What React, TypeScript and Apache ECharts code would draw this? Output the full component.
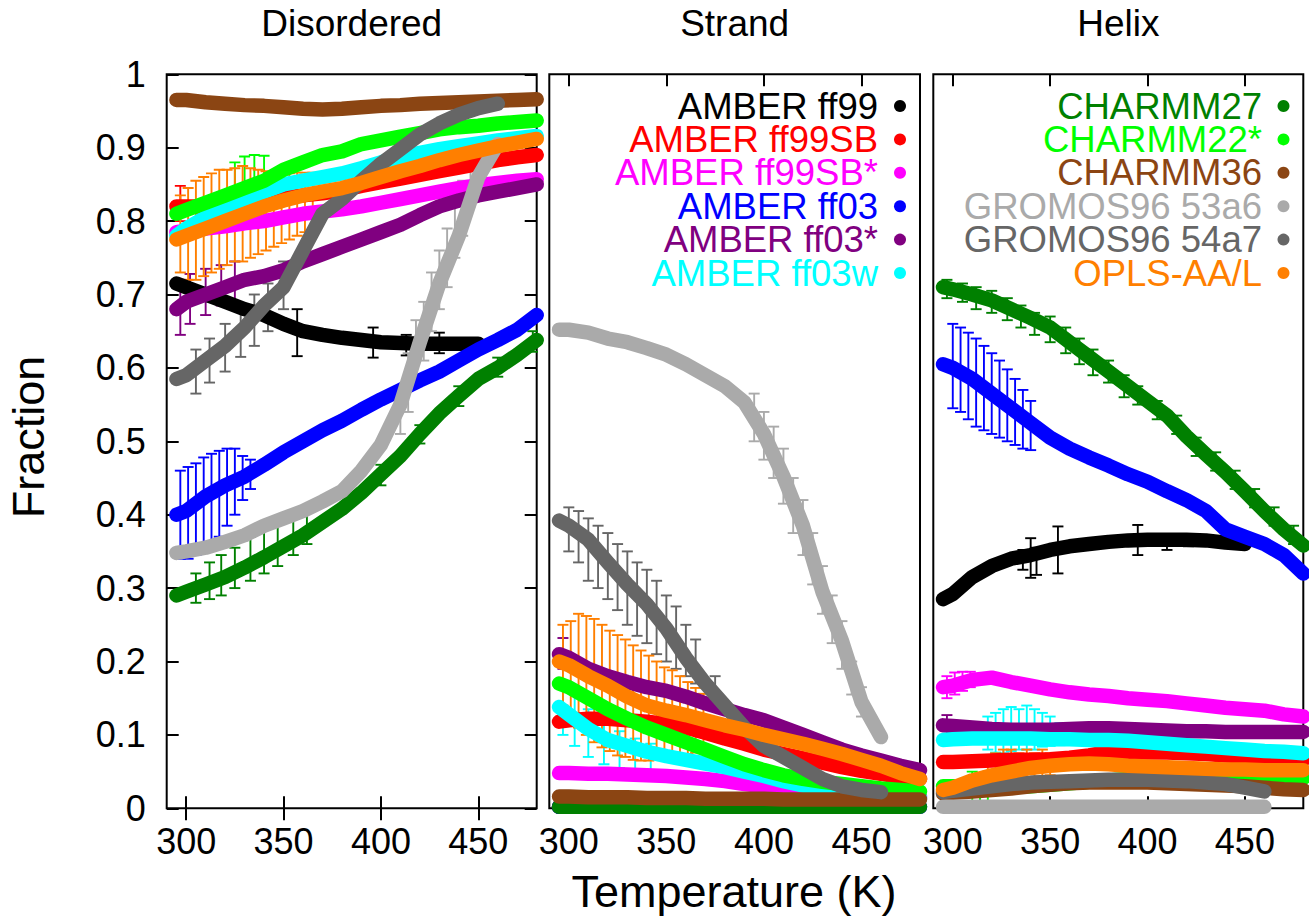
import React, { useEffect, useRef } from "react";
import * as echarts from "echarts";

// ---------------- data ----------------
const TEMPS = [295, 300, 310, 320, 330, 340, 350, 360, 370, 380, 390, 400, 410, 420, 430, 440, 450, 460, 470, 480];
const X_TICKS = [300, 350, 400, 450];
const PANEL_TITLES = ["Disordered", "Strand", "Helix"];
const FORCE_FIELDS = [
  "AMBER ff99", "AMBER ff99SB", "AMBER ff99SB*", "AMBER ff03", "AMBER ff03*", "AMBER ff03w",
  "CHARMM27", "CHARMM22*", "CHARMM36", "GROMOS96 53a6", "GROMOS96 54a7", "OPLS-AA/L",
];
const COLORS = [
  "#000000", "#ff0000", "#ff00ff", "#0000ff", "#800080", "#00ffff",
  "#008000", "#00ff00", "#8b4513", "#aaaaaa", "#666666", "#ff7f00",
];

type Row = (number | null)[];

// rows in FORCE_FIELDS order, values at TEMPS
const DISORDERED: Row[] = [
  [0.715, 0.71, 0.70, 0.69, 0.68, 0.672, 0.66, 0.65, 0.645, 0.641, 0.638, 0.635, 0.634, 0.633, 0.633, 0.633, 0.633, null, null, null],
  [0.82, 0.82, 0.82, 0.822, 0.826, 0.83, 0.832, 0.835, 0.838, 0.842, 0.848, 0.853, 0.858, 0.863, 0.868, 0.873, 0.878, 0.883, 0.887, 0.89],
  [0.785, 0.787, 0.79, 0.793, 0.797, 0.80, 0.805, 0.81, 0.813, 0.816, 0.82, 0.825, 0.83, 0.835, 0.84, 0.845, 0.849, 0.852, 0.855, 0.857],
  [0.40, 0.405, 0.425, 0.44, 0.452, 0.468, 0.485, 0.50, 0.515, 0.528, 0.543, 0.557, 0.57, 0.583, 0.595, 0.61, 0.625, 0.638, 0.652, 0.672],
  [0.68, 0.69, 0.70, 0.71, 0.72, 0.725, 0.733, 0.745, 0.755, 0.765, 0.775, 0.785, 0.795, 0.808, 0.82, 0.828, 0.835, 0.84, 0.845, 0.85],
  [0.78, 0.79, 0.805, 0.82, 0.83, 0.84, 0.85, 0.855, 0.86, 0.865, 0.872, 0.88, 0.887, 0.893, 0.898, 0.902, 0.906, 0.91, 0.913, 0.916],
  [0.29, 0.295, 0.305, 0.315, 0.328, 0.342, 0.357, 0.372, 0.39, 0.408, 0.43, 0.455, 0.48, 0.51, 0.538, 0.562, 0.585, 0.60, 0.618, 0.638],
  [0.81, 0.815, 0.825, 0.835, 0.845, 0.855, 0.87, 0.88, 0.89, 0.895, 0.905, 0.91, 0.915, 0.92, 0.925, 0.928, 0.93, 0.933, 0.935, 0.937],
  [0.965, 0.965, 0.962, 0.96, 0.958, 0.957, 0.955, 0.953, 0.952, 0.953, 0.955, 0.957, 0.958, 0.96, 0.961, 0.962, 0.963, 0.964, 0.965, 0.966],
  [0.348, 0.35, 0.355, 0.363, 0.372, 0.385, 0.395, 0.405, 0.418, 0.432, 0.46, 0.495, 0.55, 0.635, 0.715, 0.78, 0.86, 0.905, null, null],
  [0.585, 0.59, 0.61, 0.63, 0.655, 0.685, 0.71, 0.76, 0.81, 0.83, 0.855, 0.878, 0.898, 0.918, 0.933, 0.945, 0.954, 0.96, null, null],
  [0.775, 0.78, 0.79, 0.80, 0.81, 0.82, 0.828, 0.835, 0.84, 0.845, 0.852, 0.86, 0.868, 0.875, 0.883, 0.89, 0.896, 0.902, 0.907, 0.912],
];

const STRAND: Row[] = [
  [0.002, 0.002, 0.002, 0.002, 0.002, 0.002, 0.002, 0.002, 0.002, 0.002, 0.002, 0.002, 0.002, 0.002, 0.002, 0.002, 0.002, null, null, null],
  [0.118, 0.12, 0.122, 0.122, 0.12, 0.118, 0.115, 0.11, 0.103, 0.095, 0.088, 0.08, 0.074, 0.068, 0.062, 0.056, 0.051, 0.047, 0.043, 0.04],
  [0.048, 0.048, 0.047, 0.047, 0.046, 0.045, 0.044, 0.042, 0.04, 0.037, 0.033, 0.03, 0.027, 0.024, 0.022, 0.02, 0.018, 0.017, 0.016, 0.015],
  [0.002, 0.002, 0.002, 0.002, 0.002, 0.002, 0.002, 0.002, 0.002, 0.002, 0.002, 0.002, 0.002, 0.002, 0.002, 0.002, 0.002, 0.002, 0.002, 0.002],
  [0.21, 0.205, 0.19, 0.18, 0.172, 0.165, 0.16, 0.152, 0.143, 0.135, 0.127, 0.12, 0.11, 0.10, 0.09, 0.08, 0.072, 0.065, 0.058, 0.052],
  [0.138, 0.128, 0.108, 0.093, 0.085, 0.077, 0.071, 0.066, 0.061, 0.056, 0.05, 0.044, 0.037, 0.031, 0.026, 0.022, 0.019, 0.017, 0.015, 0.014],
  [0.002, 0.002, 0.002, 0.002, 0.002, 0.002, 0.002, 0.002, 0.002, 0.002, 0.002, 0.002, 0.002, 0.002, 0.002, 0.002, 0.002, 0.002, 0.002, 0.002],
  [0.17, 0.165, 0.15, 0.135, 0.122, 0.11, 0.10, 0.09, 0.08, 0.07, 0.06, 0.052, 0.045, 0.04, 0.036, 0.033, 0.03, 0.027, 0.025, 0.023],
  [0.016, 0.016, 0.015, 0.015, 0.015, 0.014, 0.014, 0.014, 0.013, 0.013, 0.013, 0.013, 0.012, 0.012, 0.012, 0.012, 0.012, 0.012, 0.012, 0.012],
  [0.652, 0.652, 0.648, 0.64, 0.635, 0.627, 0.618, 0.605, 0.59, 0.575, 0.553, 0.51, 0.452, 0.385, 0.295, 0.228, 0.145, 0.097, null, null],
  [0.392, 0.385, 0.366, 0.335, 0.305, 0.278, 0.245, 0.205, 0.17, 0.14, 0.11, 0.085, 0.07, 0.055, 0.04, 0.03, 0.025, 0.022, null, null],
  [0.20, 0.195, 0.18, 0.167, 0.152, 0.14, 0.133, 0.127, 0.12, 0.113, 0.107, 0.10, 0.094, 0.088, 0.081, 0.074, 0.066, 0.058, 0.048, 0.04],
];

const HELIX: Row[] = [
  [0.285, 0.292, 0.315, 0.33, 0.34, 0.345, 0.352, 0.357, 0.36, 0.363, 0.365, 0.366, 0.366, 0.366, 0.365, 0.362, 0.36, null, null, null],
  [0.063, 0.063, 0.064, 0.065, 0.066, 0.066, 0.067, 0.069, 0.072, 0.077, 0.077, 0.076, 0.076, 0.075, 0.074, 0.072, 0.071, 0.069, 0.067, 0.066],
  [0.165, 0.167, 0.175, 0.178, 0.172, 0.167, 0.162, 0.158, 0.155, 0.153, 0.15, 0.148, 0.146, 0.143, 0.14, 0.137, 0.135, 0.133, 0.128, 0.125],
  [0.605, 0.60, 0.585, 0.565, 0.545, 0.525, 0.505, 0.49, 0.478, 0.467, 0.455, 0.445, 0.432, 0.42, 0.405, 0.38, 0.37, 0.36, 0.345, 0.32],
  [0.113, 0.112, 0.11, 0.108, 0.107, 0.107, 0.107, 0.108, 0.109, 0.109, 0.108, 0.107, 0.106, 0.105, 0.105, 0.104, 0.104, 0.104, 0.104, 0.104],
  [0.093, 0.094, 0.095, 0.095, 0.095, 0.095, 0.094, 0.094, 0.093, 0.093, 0.092, 0.09, 0.088, 0.086, 0.084, 0.082, 0.08, 0.078, 0.077, 0.075],
  [0.71, 0.707, 0.70, 0.692, 0.68, 0.668, 0.655, 0.635, 0.615, 0.595, 0.575, 0.555, 0.535, 0.507, 0.482, 0.458, 0.432, 0.405, 0.38, 0.358],
  [0.03, 0.03, 0.028, 0.028, 0.029, 0.03, 0.032, 0.034, 0.036, 0.038, 0.04, 0.041, 0.042, 0.043, 0.043, 0.043, 0.042, 0.042, 0.041, 0.041],
  [0.02, 0.021, 0.023, 0.025, 0.027, 0.03, 0.032, 0.034, 0.035, 0.035, 0.035, 0.035, 0.034, 0.033, 0.032, 0.031, 0.03, 0.028, 0.026, 0.025],
  [0.002, 0.002, 0.002, 0.002, 0.002, 0.002, 0.002, 0.002, 0.002, 0.002, 0.002, 0.002, 0.002, 0.002, 0.002, 0.002, 0.002, 0.002, null, null],
  [0.022, 0.024, 0.027, 0.03, 0.033, 0.035, 0.036, 0.037, 0.038, 0.039, 0.039, 0.039, 0.038, 0.037, 0.035, 0.033, 0.028, 0.023, null, null],
  [0.025, 0.028, 0.038, 0.045, 0.05, 0.055, 0.058, 0.06, 0.061, 0.06, 0.058, 0.057, 0.056, 0.055, 0.054, 0.053, 0.053, 0.052, 0.052, 0.052],
];

// error bars: [series index, temperature, low, high]
const DISORDERED_ERR: number[][] = [
  [0, 357, 0.616, 0.68], [0, 396, 0.614, 0.655], [0, 413, 0.617, 0.645], [0, 430, 0.62, 0.648],
  [1, 297, 0.80, 0.848],
  [3, 297, 0.34, 0.46], [3, 301, 0.34, 0.465], [3, 305, 0.345, 0.47], [3, 309, 0.35, 0.478], [3, 313, 0.36, 0.483],
  [3, 317, 0.37, 0.487], [3, 321, 0.385, 0.49], [3, 325, 0.40, 0.49], [3, 329, 0.42, 0.48], [3, 333, 0.435, 0.475],
  [4, 297, 0.645, 0.72], [4, 302, 0.66, 0.728], [4, 310, 0.672, 0.735], [4, 318, 0.685, 0.74], [4, 325, 0.69, 0.745],
  [6, 305, 0.28, 0.32], [6, 312, 0.285, 0.335], [6, 318, 0.29, 0.345], [6, 325, 0.30, 0.355], [6, 333, 0.31, 0.37],
  [6, 340, 0.32, 0.38], [6, 347, 0.33, 0.39], [6, 355, 0.345, 0.40], [6, 362, 0.36, 0.41], [6, 400, 0.44, 0.468],
  [6, 420, 0.497, 0.522], [6, 440, 0.548, 0.575], [6, 460, 0.588, 0.614], [6, 478, 0.622, 0.65],
  [7, 325, 0.80, 0.88], [7, 330, 0.81, 0.888], [7, 335, 0.815, 0.89], [7, 340, 0.825, 0.889],
  [9, 410, 0.51, 0.57], [9, 414, 0.54, 0.62], [9, 418, 0.58, 0.665], [9, 422, 0.61, 0.69], [9, 426, 0.65, 0.73],
  [9, 430, 0.68, 0.76], [9, 434, 0.71, 0.79], [9, 438, 0.75, 0.82], [9, 442, 0.78, 0.855], [9, 446, 0.82, 0.88],
  [10, 305, 0.565, 0.625], [10, 312, 0.58, 0.64], [10, 320, 0.595, 0.66], [10, 328, 0.615, 0.68], [10, 335, 0.63, 0.70],
  [10, 342, 0.65, 0.715], [10, 350, 0.68, 0.745],
  [11, 297, 0.73, 0.835], [11, 301, 0.72, 0.845], [11, 305, 0.72, 0.855], [11, 309, 0.725, 0.86], [11, 313, 0.73, 0.865],
  [11, 317, 0.735, 0.87], [11, 321, 0.74, 0.87], [11, 325, 0.745, 0.872], [11, 329, 0.745, 0.875], [11, 333, 0.75, 0.872],
  [11, 337, 0.755, 0.87], [11, 341, 0.76, 0.868], [11, 345, 0.765, 0.866], [11, 349, 0.77, 0.866], [11, 353, 0.775, 0.865],
  [11, 357, 0.78, 0.866], [11, 361, 0.785, 0.866], [11, 365, 0.79, 0.866], [11, 428, 0.865, 0.893], [11, 432, 0.868, 0.897],
];

const STRAND_ERR: number[][] = [
  [4, 297, 0.19, 0.232],
  [5, 297, 0.10, 0.172], [5, 303, 0.085, 0.155], [5, 310, 0.07, 0.135], [5, 318, 0.06, 0.12], [5, 326, 0.055, 0.105],
  [5, 334, 0.05, 0.095], [5, 342, 0.05, 0.088],
  [9, 395, 0.50, 0.565], [9, 400, 0.475, 0.54], [9, 405, 0.45, 0.52], [9, 410, 0.415, 0.49], [9, 415, 0.375, 0.45],
  [9, 420, 0.345, 0.42], [9, 425, 0.305, 0.375], [9, 430, 0.265, 0.33], [9, 435, 0.225, 0.29], [9, 440, 0.19, 0.255],
  [9, 445, 0.155, 0.20], [9, 450, 0.125, 0.165],
  [10, 300, 0.35, 0.41], [10, 305, 0.335, 0.405], [10, 310, 0.31, 0.395], [10, 315, 0.30, 0.385], [10, 320, 0.285, 0.375],
  [10, 325, 0.27, 0.36], [10, 330, 0.25, 0.35], [10, 335, 0.235, 0.335], [10, 340, 0.225, 0.325], [10, 345, 0.21, 0.31],
  [10, 350, 0.20, 0.29], [10, 355, 0.19, 0.275], [10, 360, 0.18, 0.25], [10, 365, 0.17, 0.23], [10, 375, 0.14, 0.18],
  [11, 297, 0.14, 0.25], [11, 301, 0.13, 0.255], [11, 305, 0.11, 0.265], [11, 309, 0.10, 0.262], [11, 313, 0.09, 0.258],
  [11, 317, 0.083, 0.25], [11, 321, 0.078, 0.242], [11, 325, 0.072, 0.236], [11, 329, 0.07, 0.23], [11, 333, 0.066, 0.222],
  [11, 337, 0.065, 0.215], [11, 341, 0.065, 0.208], [11, 345, 0.068, 0.20], [11, 349, 0.066, 0.192], [11, 353, 0.066, 0.188],
  [11, 357, 0.07, 0.18], [11, 361, 0.074, 0.172], [11, 365, 0.076, 0.164], [11, 369, 0.08, 0.156],
];

const HELIX_ERR: number[][] = [
  [0, 336, 0.325, 0.352], [0, 340, 0.314, 0.368], [0, 343, 0.318, 0.355], [0, 354, 0.32, 0.384], [0, 395, 0.345, 0.386],
  [0, 410, 0.352, 0.37], [0, 421, 0.357, 0.373],
  [2, 297, 0.15, 0.18], [2, 301, 0.155, 0.185], [2, 305, 0.16, 0.186], [2, 309, 0.165, 0.186],
  [3, 300, 0.545, 0.66], [3, 304, 0.54, 0.655], [3, 308, 0.53, 0.648], [3, 312, 0.52, 0.64], [3, 316, 0.515, 0.63],
  [3, 320, 0.51, 0.62], [3, 324, 0.505, 0.61], [3, 328, 0.50, 0.598], [3, 332, 0.495, 0.585], [3, 336, 0.49, 0.57],
  [3, 340, 0.488, 0.555],
  [4, 297, 0.10, 0.127],
  [5, 318, 0.08, 0.125], [5, 322, 0.076, 0.13], [5, 326, 0.075, 0.135], [5, 330, 0.078, 0.138], [5, 334, 0.08, 0.135],
  [5, 338, 0.08, 0.14], [5, 342, 0.08, 0.135], [5, 346, 0.084, 0.13], [5, 350, 0.085, 0.125], [5, 355, 0.086, 0.116],
  [6, 297, 0.695, 0.72], [6, 305, 0.69, 0.715], [6, 312, 0.68, 0.71], [6, 320, 0.675, 0.705], [6, 328, 0.665, 0.695],
  [6, 335, 0.655, 0.685], [6, 342, 0.645, 0.675], [6, 350, 0.635, 0.67], [6, 358, 0.62, 0.655], [6, 365, 0.605, 0.64],
  [6, 372, 0.59, 0.625], [6, 380, 0.58, 0.61], [6, 388, 0.56, 0.59], [6, 395, 0.55, 0.575], [6, 405, 0.53, 0.555],
  [6, 415, 0.51, 0.535], [6, 425, 0.48, 0.505], [6, 435, 0.46, 0.485], [6, 445, 0.435, 0.46], [6, 455, 0.41, 0.435],
  [6, 465, 0.385, 0.41], [6, 475, 0.36, 0.385],
  [7, 310, 0.005, 0.05], [7, 314, 0.008, 0.048], [7, 318, 0.01, 0.05],
  [11, 318, 0.025, 0.07], [11, 322, 0.03, 0.075], [11, 326, 0.03, 0.08], [11, 330, 0.035, 0.08], [11, 334, 0.04, 0.075],
  [11, 338, 0.035, 0.08], [11, 342, 0.04, 0.075], [11, 346, 0.04, 0.08], [11, 350, 0.045, 0.075],
];

// ---------------- layout ----------------
const FONT = "'Liberation Sans', Arial, Helvetica, sans-serif";
const GRIDS = [
  { left: 166.7, top: 74.3, width: 370, height: 734 },
  { left: 549.3, top: 74.3, width: 370.7, height: 734 },
  { left: 933.3, top: 74.3, width: 370, height: 734 },
];

function errorRenderer(color: string) {
  return (_params: any, api: any) => {
    const x = api.value(0);
    const a = api.coord([x, api.value(1)]);
    const b = api.coord([x, api.value(2)]);
    const w = 5.5;
    const style = { stroke: color, lineWidth: 1.9, fill: null };
    return {
      type: "group",
      children: [
        { type: "line", shape: { x1: a[0], y1: a[1], x2: b[0], y2: b[1] }, style },
        { type: "line", shape: { x1: a[0] - w, y1: a[1], x2: a[0] + w, y2: a[1] }, style },
        { type: "line", shape: { x1: b[0] - w, y1: b[1], x2: b[0] + w, y2: b[1] }, style },
      ],
    };
  };
}

function buildOption() {
  const panels = [DISORDERED, STRAND, HELIX];
  const panelErrs = [DISORDERED_ERR, STRAND_ERR, HELIX_ERR];
  const series: any[] = [];
  panels.forEach((rows, p) => {
    rows.forEach((vals, i) => {
      series.push({
        type: "line",
        name: FORCE_FIELDS[i],
        xAxisIndex: p,
        yAxisIndex: p,
        data: TEMPS.map((t, k) => [t, vals[k]]),
        showSymbol: false,
        symbol: "none",
        silent: true,
        clip: true,
        lineStyle: { color: COLORS[i], width: 14.5, cap: "round", join: "round" },
        itemStyle: { color: COLORS[i] },
      });
      const errs = panelErrs[p].filter((e) => e[0] === i);
      if (errs.length) {
        series.push({
          type: "custom",
          xAxisIndex: p,
          yAxisIndex: p,
          silent: true,
          clip: true,
          renderItem: errorRenderer(COLORS[i]),
          encode: { x: 0, y: [1, 2] },
          data: errs.map((e) => [e[1], e[2], e[3]]),
        });
      }
    });
  });

  const tickStyle = { color: "#000", width: 2 };
  const xAxis: any[] = [];
  for (let p = 0; p < 3; p++) {
    xAxis.push({
      type: "value", gridIndex: p, min: 290, max: 480, position: "bottom",
      axisLine: { show: false }, splitLine: { show: false },
      axisTick: { show: true, inside: true, length: 12, customValues: X_TICKS, lineStyle: tickStyle },
      axisLabel: { show: true, customValues: X_TICKS, fontSize: 36, color: "#000", fontFamily: FONT, margin: 15 },
    });
  }
  for (let p = 0; p < 3; p++) {
    xAxis.push({
      type: "value", gridIndex: p, min: 290, max: 480, position: "top",
      axisLine: { show: false }, splitLine: { show: false },
      axisTick: { show: true, inside: true, length: 12, customValues: X_TICKS, lineStyle: tickStyle },
      axisLabel: { show: false },
    });
  }
  const yAxis: any[] = [
    {
      type: "value", gridIndex: 0, min: 0, max: 1, interval: 0.1, position: "left",
      axisLine: { show: false }, splitLine: { show: false },
      axisTick: { show: true, inside: true, length: 12, lineStyle: tickStyle },
      axisLabel: {
        show: true, fontSize: 36, color: "#000", fontFamily: FONT, margin: 21,
        formatter: (v: number) => String(Math.round(v * 10) / 10),
      },
    },
    {
      type: "value", gridIndex: 1, min: 0, max: 1, axisLine: { show: false }, splitLine: { show: false },
      axisTick: { show: false }, axisLabel: { show: false },
    },
    {
      type: "value", gridIndex: 2, min: 0, max: 1, axisLine: { show: false }, splitLine: { show: false },
      axisTick: { show: false }, axisLabel: { show: false },
    },
    {
      type: "value", gridIndex: 0, min: 0, max: 1, interval: 0.1, position: "right",
      axisLine: { show: false }, splitLine: { show: false },
      axisTick: { show: true, inside: true, length: 12, lineStyle: tickStyle },
      axisLabel: { show: false },
    },
  ];

  const graphic: any[] = [];
  GRIDS.forEach((g, p) => {
    graphic.push({
      type: "text", x: g.left + g.width / 2, y: 23.5, silent: true,
      style: { text: PANEL_TITLES[p], fill: "#000", fontSize: 37, fontFamily: FONT, align: "center", verticalAlign: "middle" },
    });
  });
  graphic.push({
    type: "text", x: 28, y: 437, rotation: Math.PI / 2, silent: true,
    style: { text: "Fraction", fill: "#000", fontSize: 45, fontFamily: FONT, align: "center", verticalAlign: "middle" },
  });
  graphic.push({
    type: "text", x: 734, y: 891, silent: true,
    style: { text: "Temperature (K)", fill: "#000", fontSize: 45, fontFamily: FONT, align: "center", verticalAlign: "middle" },
  });
  // legends: first six in the Strand panel, last six in the Helix panel
  const legendPos = [
    { textX: 878, dotX: 900 },
    { textX: 1262, dotX: 1283.5 },
  ];
  FORCE_FIELDS.forEach((name, i) => {
    const col = Math.floor(i / 6);
    const row = i % 6;
    const y = 106 + row * 33.4;
    graphic.push({
      type: "text", x: legendPos[col].textX, y, silent: true, z: 100,
      style: {
        text: name, fill: COLORS[i], fontSize: 36.5, lineHeight: 32, fontFamily: FONT,
        align: "right", verticalAlign: "middle",
      },
    });
    graphic.push({
      type: "circle", shape: { cx: legendPos[col].dotX, cy: y, r: 6 }, silent: true, z: 100,
      style: { fill: COLORS[i] },
    });
  });

  return {
    animation: false,
    backgroundColor: "#ffffff",
    textStyle: { fontFamily: FONT },
    grid: GRIDS.map((g) => ({
      ...g, show: true, borderColor: "#000", borderWidth: 2, backgroundColor: "transparent", containLabel: false,
    })),
    xAxis,
    yAxis,
    series,
    graphic,
  };
}

export default function App() {
  const ref = useRef<HTMLDivElement>(null);
  useEffect(() => {
    if (!ref.current) return;
    const chart = echarts.init(ref.current, undefined, { renderer: "svg" });
    chart.setOption(buildOption() as any);
    return () => chart.dispose();
  }, []);
  return (
    <div
      ref={ref}
      style={{ position: "fixed", left: 0, top: 0, width: 1309, height: 920, background: "#fff" }}
    />
  );
}
